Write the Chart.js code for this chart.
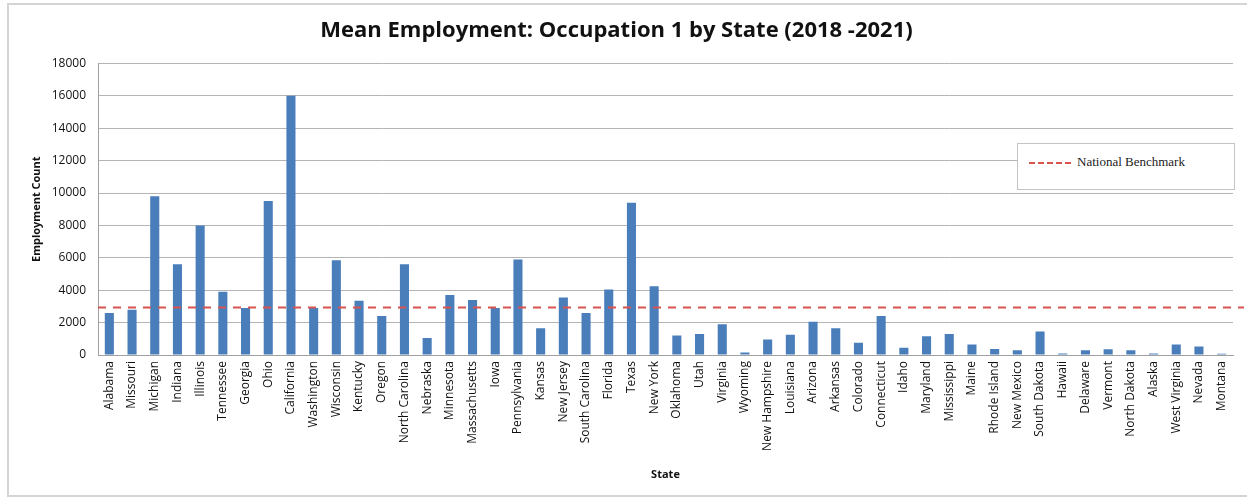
<!DOCTYPE html>
<html>
<head>
<meta charset="utf-8">
<script src="https://cdn.jsdelivr.net/npm/chart.js@4"></script>
<style>
body{margin:0;background:#fff}
#wrap{position:relative;width:1247px;height:498px}
#frame{position:absolute;left:7px;top:3px;width:1238px;height:490px;border:2px solid #d4d4d4;pointer-events:none}
#legend{position:absolute;left:1017px;top:143px;width:216px;height:45px;border:1px solid #c4c4c4;background:#fff;font-family:"Liberation Serif",serif;font-size:13px;color:#222}
#legend span.dash{position:absolute;left:11px;top:18px;width:42px;height:0;border-top:2px dashed #d9534f}
#legend span.txt{position:absolute;left:59px;top:10px}
</style>
</head>
<body>
<div id="wrap">
<canvas id="c" width="1247" height="498"></canvas>
<div id="frame"></div>
<div id="legend"><span class="dash"></span><span class="txt">National Benchmark</span></div>
</div>
<script>
const states=['Alabama','Missouri','Michigan','Indiana','Illinois','Tennessee','Georgia','Ohio','California','Washington','Wisconsin','Kentucky','Oregon','North Carolina','Nebraska','Minnesota','Massachusetts','Iowa','Pennsylvania','Kansas','New Jersey','South Carolina','Florida','Texas','New York','Oklahoma','Utah','Virginia','Wyoming','New Hampshire','Louisiana','Arizona','Arkansas','Colorado','Connecticut','Idaho','Maryland','Mississippi','Maine','Rhode Island','New Mexico','South Dakota','Hawaii','Delaware','Vermont','North Dakota','Alaska','West Virginia','Nevada','Montana']
const employment=[2600,2800,9800,5600,8000,3900,2900,9500,16000,2900,5850,3350,2400,5600,1050,3700,3400,2900,5900,1650,3550,2600,4050,9400,4250,1200,1300,1900,150,950,1250,2050,1650,750,2400,450,1150,1300,650,370,300,1450,100,300,350,300,100,650,530,80]
const benchmark=2930
const yTicks=[0,2000,4000,6000,8000,10000,12000,14000,16000,18000]

const benchLine={
  id:'benchLine',
  afterDatasetsDraw(chart){
    const c=chart.ctx,y=chart.scales.y.getPixelForValue(benchmark)
    c.save()
    c.strokeStyle='#d9534f'
    c.lineWidth=2
    c.setLineDash([8,7])
    c.beginPath()
    c.moveTo(chart.chartArea.left,y)
    c.lineTo(chart.width-3,y)
    c.stroke()
    c.restore()
  }
}

new Chart(document.getElementById('c'),{
  type:'bar',
  data:{
    labels:states,
    datasets:[{
      label:'Employment',
      data:employment,
      backgroundColor:'#4a7ebb',
      categoryPercentage:1,
      barPercentage:0.4
    }]
  },
  options:{
    responsive:false,
    animation:false,
    layout:{padding:{left:0,right:14,top:0,bottom:0}},
    plugins:{
      legend:{display:false},
      tooltip:{enabled:false},
      title:{
        display:true,
        text:'Mean Employment: Occupation 1 by State (2018 -2021)',
        color:'#111',
        font:{family:'"Open Sans"',size:22,weight:'bold'},
        padding:{top:18,bottom:19}
      }
    },
    scales:{
      x:{
        afterFit(s){s.height=143},
        grid:{display:false,drawTicks:false},
        border:{color:'#a0a0a0'},
        ticks:{color:'#111',font:{family:'"Open Sans"',size:12},minRotation:90,maxRotation:90,autoSkip:false,padding:6},
        title:{display:true,text:'State',color:'#111',font:{family:'"Open Sans"',size:11,weight:'bold'},padding:{top:4,bottom:17}}
      },
      y:{
        min:0,max:18000,
        afterFit(s){s.width=98},
        afterBuildTicks(s){s.ticks=yTicks.map(v=>({value:v}))},
        grid:{color:'#b4b4b4',drawTicks:false},
        border:{color:'#a0a0a0'},
        ticks:{color:'#111',font:{family:'"Open Sans"',size:12},padding:12,callback:v=>String(v)},
        title:{display:true,text:'Employment Count',color:'#111',font:{family:'"Open Sans"',size:11,weight:'bold'},padding:{top:30,bottom:0}}
      }
    }
  },
  plugins:[benchLine]
})
</script>
</body>
</html>
